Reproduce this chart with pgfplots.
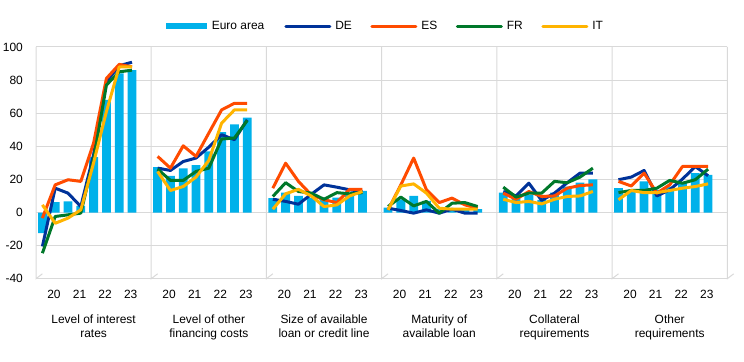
\documentclass[border=0pt]{standalone}
\usepackage{fontspec}
\setmainfont{Liberation Sans}
\usepackage{pgfplots}
\pgfplotsset{compat=1.18}
\usepackage{pgfplotstable}
\definecolor{ea}{HTML}{00B1EA}
\definecolor{de}{HTML}{003299}
\definecolor{es}{HTML}{FF4B00}
\definecolor{fr}{HTML}{00782A}
\definecolor{it}{HTML}{FFB400}
\definecolor{gridgray}{HTML}{D9D9D9}
\newcommand{\lbl}{\fontsize{12}{14}\selectfont}

\pgfplotstableread{
x ea de es fr it
0 -12.5 -20.5 -3.4 -24.6 4.6
1 6.2 14.7 16.7 -2.4 -6.5
2 6.7 11.7 19.8 -1.4 -3.4
3 4 3.6 18.8 -0.4 1.6
4 33.5 35 42 32 30
5 68 79 81 77 61
6 84 88.7 89.5 85 88
7 86 90.8 88 86 88
8 nan nan nan nan nan
9 27.4 26.8 33.9 26.2 24.8
10 22.2 25.4 26.8 19.4 13.3
11 26.6 30.8 40.3 19.4 15.7
12 28.6 32.9 33.9 24.8 21.4
13 36.9 39.5 48 26.8 31.5
14 48.6 47 62 44.4 54
15 53.2 44 66 45 62
16 57.3 56 66 55.6 62
17 nan nan nan nan nan
18 8.7 8 14.7 9.7 2
19 12 6.7 29.8 18 11.3
20 10 5 18.8 12.7 14
21 9 11 10.7 11.7 10
22 9 16.7 7.7 8 3.6
23 9 15.3 6 12 4.6
24 11 13.7 14 11.3 10
25 13 12.7 14 12 12.7
26 nan nan nan nan nan
27 3 2.6 1.6 3.6 1.6
28 8 1.2 16.7 9.3 16
29 10 -0.4 32.9 4 17.3
30 7 1.6 13.7 6.7 11.7
31 2 -0.4 6 -0.4 2.6
32 2 2 8.7 5.6 2
33 2 -0.4 4.6 6 2
34 2 -0.4 2.6 3.6 2
35 nan nan nan nan nan
36 12 12.7 11.7 15.3 8
37 8.7 10 8 9.3 6
38 10.7 17.7 12.7 11.7 6.7
39 7.7 7.3 9.7 11.7 5.2
40 12 11.7 10 18.8 8
41 15.7 18 14.7 18 9.7
42 18 23.8 16.3 21.4 10
43 20 23.8 16.7 26.8 12.7
44 nan nan nan nan nan
45 14.7 19.8 18.8 12 7.7
46 13.7 21.4 16 13.3 13.3
47 18.8 25.4 23.8 13.3 12
48 13.7 10 11.7 14.7 12
49 15.7 13.7 16.7 19.4 13.3
50 17.7 20.2 27.8 17.7 14.7
51 23.8 27.8 27.8 19.8 15.7
52 22.8 22.2 27.8 26.2 17.3
}\data

\begin{document}
\begin{tikzpicture}
\useasboundingbox (-36bp,-83.3bp) rectangle (708bp,278.7bp);
\begin{axis}[
  width=691.3bp, height=231.7bp, scale only axis,
  xmin=-0.5, xmax=53.5, ymin=-40, ymax=100,
  ytick={-40,-20,0,20,40,60,80,100},
  xtick={0.9,2.9,4.9,6.9,9.9,11.9,13.9,15.9,18.9,20.9,22.9,24.9,27.9,29.9,31.9,33.9,36.9,38.9,40.9,42.9,45.9,47.9,49.9,51.9},
  xticklabels={20,21,22,23,20,21,22,23,20,21,22,23,20,21,22,23,20,21,22,23,20,21,22,23},
  axis line style={draw=none},
  major tick length=0pt,
  ymajorgrids,
  grid style={draw=gridgray, line width=1bp},
  tick label style={font=\lbl},
  /pgf/number format/assume math mode=true,
  yticklabel style={anchor=east, inner sep=0pt, xshift=-13bp},
  xticklabel style={anchor=base, inner sep=0pt, yshift=-20bp},
  clip=false,
  unbounded coords=jump,
  legend columns=-1,
  legend style={at={(axis description cs:0.188,1.0906)}, anchor=west, draw=none, fill=none,
    inner sep=0pt, font=\lbl, nodes={inner sep=0pt}, column sep=0pt},
  linestyle/.style={line width=3bp, line join=round, no markers,
    legend image code/.code={\path (-1.5bp,0) (45.5bp,0); \draw[line width=3bp, line cap=round] (0bp,0) -- (44bp,0);}},
]
\pgfplotsinvokeforeach{-0.5,8.5,17.5,26.5,35.5,44.5,53.5}{
  \draw[gridgray, line width=1bp] (axis cs:#1,100) -- (axis cs:#1,-40) -- ++(0,-61.3bp);
}
\addplot[ybar, bar width=8.8bp, bar shift=0pt, fill=ea, draw=none,
  legend image code/.code={\fill[ea] (0bp,-3bp) rectangle (41bp,3bp);}]
  table[x=x, y=ea]{\data};
\addlegendentry{\hspace*{4.7bp}Euro area\hspace*{18.5bp}}
\addplot[de, linestyle] table[x=x, y=de]{\data};
\addlegendentry{\hspace*{2.5bp}DE\hspace*{17bp}}
\addplot[es, linestyle] table[x=x, y=es]{\data};
\addlegendentry{\hspace*{2.5bp}ES\hspace*{17bp}}
\addplot[fr, linestyle] table[x=x, y=fr]{\data};
\addlegendentry{\hspace*{2.5bp}FR\hspace*{17bp}}
\addplot[it, linestyle] table[x=x, y=it]{\data};
\addlegendentry{\hspace*{2.5bp}IT}

\node[anchor=base, font=\lbl, inner sep=0pt, yshift=-44.3bp] at (axis cs:4,-40) {Level of interest};
\node[anchor=base, font=\lbl, inner sep=0pt, yshift=-58.6bp] at (axis cs:4,-40) {rates};
\node[anchor=base, font=\lbl, inner sep=0pt, yshift=-44.3bp] at (axis cs:13,-40) {Level of other};
\node[anchor=base, font=\lbl, inner sep=0pt, yshift=-58.6bp] at (axis cs:13,-40) {financing costs};
\node[anchor=base, font=\lbl, inner sep=0pt, yshift=-44.3bp] at (axis cs:22,-40) {Size of available};
\node[anchor=base, font=\lbl, inner sep=0pt, yshift=-58.6bp] at (axis cs:22,-40) {loan or credit line};
\node[anchor=base, font=\lbl, inner sep=0pt, yshift=-44.3bp] at (axis cs:31,-40) {Maturity of};
\node[anchor=base, font=\lbl, inner sep=0pt, yshift=-58.6bp] at (axis cs:31,-40) {available loan};
\node[anchor=base, font=\lbl, inner sep=0pt, yshift=-44.3bp] at (axis cs:40,-40) {Collateral};
\node[anchor=base, font=\lbl, inner sep=0pt, yshift=-58.6bp] at (axis cs:40,-40) {requirements};
\node[anchor=base, font=\lbl, inner sep=0pt, yshift=-44.3bp] at (axis cs:49,-40) {Other};
\node[anchor=base, font=\lbl, inner sep=0pt, yshift=-58.6bp] at (axis cs:49,-40) {requirements};
\end{axis}
\end{tikzpicture}
\end{document}
